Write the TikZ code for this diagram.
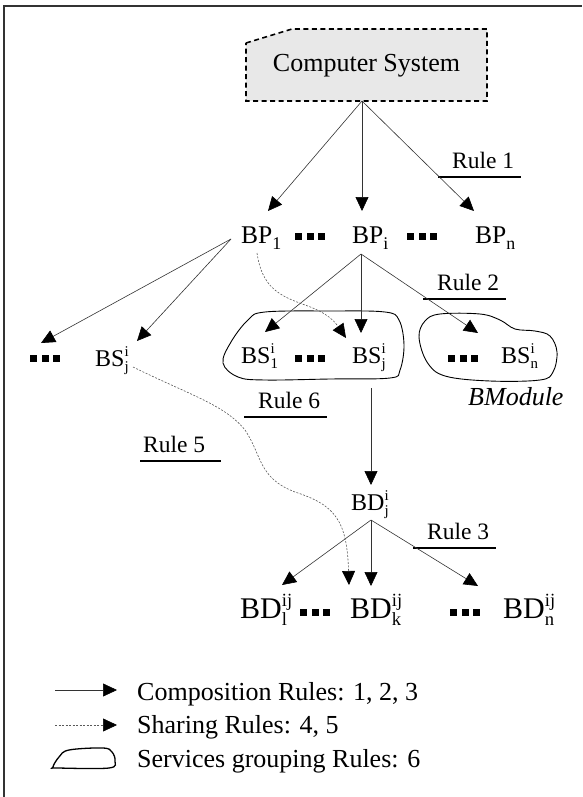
\documentclass[tikz,border=0pt]{standalone}
\usepackage{fontspec}
\setmainfont{Liberation Serif}
\usetikzlibrary{arrows.meta,calc}

\makeatletter
% index-size text: #1 is the scale of the current size
\newcommand{\scr}[2]{{\fontsize{\dimexpr#1\dimexpr\f@size pt\relax\relax}{1pt}\selectfont #2}}
\makeatother
% lowered index
\newcommand{\lowsub}[1]{\lower0.24em\hbox{\scr{0.7}{#1}}}
% stacked superscript / subscript after a label
\newcommand{\supsub}[2]{\setbox0\hbox{\scr{0.62}{#1}}\setbox2\hbox{\scr{0.62}{#2}}%
  \rlap{\raise0.4em\copy0}\rlap{\lower0.24em\copy2}%
  \hskip\ifdim\wd0>\wd2 \wd0\else\wd2\fi}
% three bold square dots
\newcommand{\sqdots}{\rule{7pt}{7pt}\hspace{4.5pt}\rule{7pt}{7pt}\hspace{4.5pt}\rule{7pt}{7pt}}

\tikzset{
  lab/.style={inner sep=0pt, anchor=base west, font=\fontsize{24}{26}\selectfont},
  bigp/.style={lab, font=\fontsize{25.5}{28}\selectfont},
  bigd/.style={lab, font=\fontsize{30}{32}\selectfont},
  rulelab/.style={lab, font=\fontsize{23.5}{25}\selectfont},
  legendtext/.style={lab, font=\fontsize{26}{28}\selectfont},
  dotsq/.style={inner sep=0pt, anchor=base west},
  tip/.style={-{Triangle[length=14pt,width=13pt,black]}},
  comp/.style={tip, draw=black!80, line width=0.6pt},
  share/.style={tip, draw=black!65, line width=0.6pt, dash pattern=on 2pt off 1.5pt},
  ruleline/.style={line width=1.6pt},
  blob/.style={draw, line width=0.9pt},
}

\begin{document}
\begin{tikzpicture}[x=1pt,y=-1pt]
\useasboundingbox (0,0) rectangle (582,797);

% outer frame (top and left edges)
\draw[line width=2pt, draw=black!80] (4,797) -- (4,6) -- (582,6);

% system box with a cut corner
\draw[fill=black!9, line width=1.6pt, dash pattern=on 5pt off 3.5pt]
  (246,43) -- (292,29) -- (487,29) -- (487,101) -- (246,101) -- cycle;
\node[anchor=base, inner sep=0pt, font=\fontsize{26}{28}\selectfont] (cs) at (366.5,72) {Computer System};

% business processes
\node[bigp] (bp1) at (241,243) {BP\lowsub{1}};
\node[dotsq] (d1) at (295,240) {\sqdots};
\node[bigp] (bpi) at (352,243) {BP\lowsub{i}};
\node[dotsq] (d2) at (407,240) {\sqdots};
\node[bigp] (bpn) at (475,243) {BP\lowsub{n}};

% business services
\node[dotsq] (d0) at (30,362) {\sqdots};
\node[lab] (bsl) at (95,366) {BS\supsub{i}{j}};
\node[lab] (bs1) at (241,363) {BS\supsub{i}{1}};
\node[dotsq] (d3) at (295,362) {\sqdots};
\node[lab] (bsj) at (352,363) {BS\supsub{i}{j}};
\node[dotsq] (d4) at (448,362) {\sqdots};
\node[lab] (bsn) at (501,363) {BS\supsub{i}{n}};
\node[lab, font=\fontsize{26}{28}\selectfont\itshape] (bmod) at (468,405) {BModule};

% service groupings
\draw[blob] plot[smooth cycle, tension=0.6] coordinates {
  (223,363) (231,342) (248,320) (265,312) (330,311) (385,312) (399,320)
  (404,345) (400,370) (390,378) (330,379) (265,380) (238,377)};
\draw[blob] plot[smooth cycle, tension=0.6] coordinates {
  (419,337) (425,321) (440,314) (480,314) (500,320) (515,329) (535,331)
  (550,336) (557,352) (553,372) (540,380) (490,381) (445,376) (427,362)};

% business data
\node[lab] (bdj) at (351,510) {BD\supsub{i}{j}};
\node[bigd] (bdl) at (240,618) {BD\supsub{ij}{l}};
\node[dotsq] (d5) at (300,616) {\sqdots};
\node[bigd] (bdk) at (350,618) {BD\supsub{ij}{k}};
\node[dotsq] (d6) at (450,616) {\sqdots};
\node[bigd] (bdn) at (503,618) {BD\supsub{ij}{n}};

% rule labels
\node[rulelab] (r1) at (452,168) {Rule 1};
\node[rulelab] (r2) at (437,290) {Rule 2};
\node[rulelab] (r3) at (427,539) {Rule 3};
\node[rulelab] (r5) at (143,452) {Rule 5};
\node[rulelab] (r6) at (258,408) {Rule 6};
\foreach \r in {r1,r2,r3,r6}
  \draw[ruleline] ([shift={(-14,9)}]\r.base west) -- ([shift={(7,9)}]\r.base east);
\draw[ruleline] ([shift={(-3,9)}]r5.base west) -- ([shift={(16,9)}]r5.base east);

% composition rule 1
\draw[comp] ([shift={(-4.5,29)}]cs.base) -- ([shift={(27,-32)}]bp1.base west);
\draw[comp] ([shift={(-4.5,29)}]cs.base) -- ([shift={(10,-32)}]bpi.base west);
\draw[comp] ([shift={(-4.5,29)}]cs.base) -- ([shift={(-1,-32)}]bpn.base west);

% composition rule 2
\draw[comp] ([shift={(-10,-4)}]bp1.base west) -- ([shift={(11,-19)}]d0.base west);
\draw[comp] ([shift={(-10,-4)}]bp1.base west) -- ([shift={(42,-25)}]bsl.base west);
\draw[comp] ([shift={(9,11)}]bpi.base west) -- ([shift={(24,-31)}]bs1.base west);
\draw[comp] ([shift={(9,11)}]bpi.base west) -- ([shift={(9,-30)}]bsj.base west);
\draw[comp] ([shift={(9,11)}]bpi.base west) -- ([shift={(-23,-30)}]bsn.base west);

% service to data
\draw[comp] ([shift={(19,25)}]bsj.base west) -- ([shift={(20,-25)}]bdj.base west);

% composition rule 3
\draw[comp] ([shift={(20,10)}]bdj.base west) -- ([shift={(42,-33)}]bdl.base west);
\draw[comp] ([shift={(20,10)}]bdj.base west) -- ([shift={(21,-32)}]bdk.base west);
\draw[comp] ([shift={(20,10)}]bdj.base west) -- ([shift={(-25,-32)}]bdn.base west);

% sharing rules
\draw[share] ([shift={(16,10)}]bp1.base west)
  .. controls (262,288) and (280,296) .. (305,305)
  .. controls (328,313) and (335,322) .. ([shift={(-6,-25)}]bsj.base west);
\draw[share] ([shift={(38,1)}]bsl.base west)
  .. controls (190,395) and (225,405) .. (245,430)
  .. controls (262,455) and (258,478) .. (295,492)
  .. controls (335,505) and (347,520) .. ([shift={(-1,-33)}]bdk.base west);

% legend
\node[legendtext] (lgc) at (137,700) {Composition Rules: 1, 2, 3};
\node[legendtext] (lgs) at (137,733) {Sharing Rules: 4, 5};
\node[legendtext] (lgg) at (137,767) {Services grouping Rules: 6};
\draw[comp] ([shift={(-82,-10)}]lgc.base west) -- ([shift={(-20,-10)}]lgc.base west);
\draw[share] ([shift={(-82,-8)}]lgs.base west) -- ([shift={(-20,-8)}]lgs.base west);
\draw[blob, line width=1.3pt] plot[smooth cycle, tension=0.6] coordinates {
  (53,767) (59,757) (69,750) (103,748) (112,752) (115,761) (109,768) (58,768)};
\end{tikzpicture}
\end{document}
